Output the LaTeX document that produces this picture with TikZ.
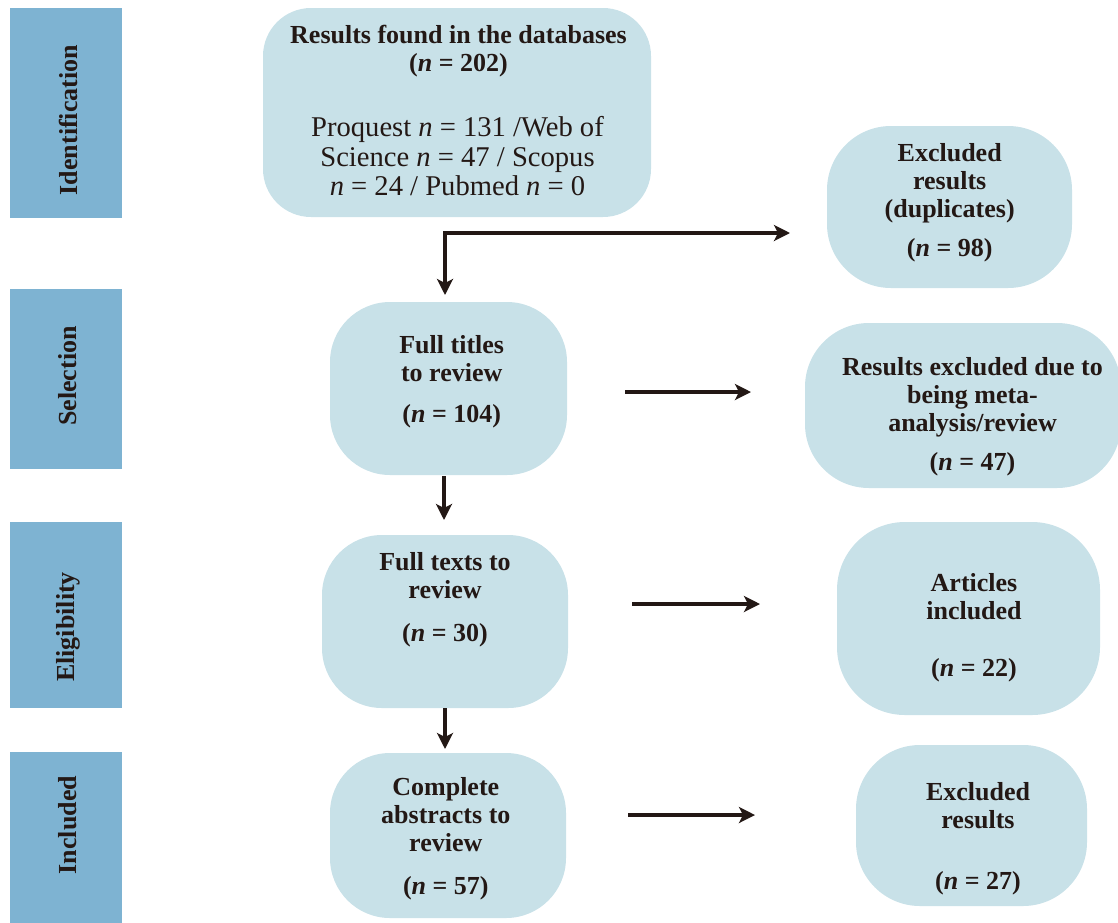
\documentclass[tikz,border=0pt]{standalone}
\usepackage{fontspec}
\setmainfont{Liberation Serif}
\usetikzlibrary{arrows.meta}
\definecolor{barblue}{RGB}{126,179,210}
\definecolor{boxblue}{RGB}{200,225,232}
\definecolor{ink}{RGB}{35,24,21}
\begin{document}
\begin{tikzpicture}[x=0.5pt,y=-0.5pt,
  bar/.style={fill=barblue, draw=none, minimum width=56pt, anchor=north west, inner sep=0pt, outer sep=0pt},
  lab/.style={rotate=90, font=\fontsize{13}{14}\selectfont\bfseries, text=ink, inner sep=0pt},
  box/.style={fill=boxblue, draw=none, inner sep=0pt, outer sep=0pt},
  txt/.style={font=\fontsize{13}{14}\selectfont\bfseries, text=ink, align=center, anchor=north, inner sep=0pt},
  rtxt/.style={font=\fontsize{14.3}{14.75}\selectfont, text=ink, align=center, anchor=north, inner sep=0pt},
  arr/.style={draw=ink, line width=2pt, -{Stealth[length=8pt,width=8pt,inset=2pt]}}]
\useasboundingbox (0,0) rectangle (1118,922);
% phase bars
\node[bar, minimum height=105pt] (b1) at (10,8) {};
\node[bar, minimum height=90pt] (b2) at (10,289) {};
\node[bar, minimum height=93pt] (b3) at (10,522) {};
\node[bar, minimum height=86pt] (b4) at (10,752) {};
\node[lab] (l1) at (68,120) {Identification};
\node[lab] (l2) at (68,376) {Selection};
\node[lab] (l3) at (68,627) {Eligibility};
\node[lab] (l4) at (68,825) {Included};
% boxes
\node[box, minimum width=194pt, minimum height=104.5pt, rounded corners=24pt] (top) at (457,112.5) {};
\node[box, minimum width=122.5pt, minimum height=81pt, rounded corners=32pt] (dup) at (949.5,207) {};
\node[box, minimum width=118.5pt, minimum height=86.5pt, rounded corners=30pt] (ft) at (448.5,388.5) {};
\node[box, minimum width=158pt, minimum height=82.5pt, rounded corners=32pt] (meta) at (963,405.5) {};
\node[box, minimum width=123pt, minimum height=86.5pt, rounded corners=30pt] (fx) at (445,621.5) {};
\node[box, minimum width=131.5pt, minimum height=96.5pt, rounded corners=34pt] (ai) at (968.5,618.5) {};
\node[box, minimum width=118pt, minimum height=82.5pt, rounded corners=30pt] (ca) at (448,835.5) {};
\node[box, minimum width=115.5pt, minimum height=80.5pt, rounded corners=32pt] (er) at (971.5,825.5) {};
% texts
\node[txt] (topa) at (458.5,25) {Results found in the databases\\(\textit{n} = 202)};
\node[rtxt] (topb) at (457.5,116) {Proquest \textit{n} = 131 /Web of\\Science \textit{n} = 47 / Scopus\\\textit{n} = 24 / Pubmed \textit{n} = 0};
\node[txt] (dupt) at (949.7,143) {Excluded\\results\\(duplicates)\\[5.5pt](\textit{n} = 98)};
\node[txt] (ftt) at (451.7,335) {Full titles\\to review\\[6.5pt](\textit{n} = 104)};
\node[txt] (metat) at (972.5,357) {Results excluded due to\\being meta-\\analysis/review\\[5.5pt](\textit{n} = 47)};
\node[txt] (fxt) at (445,552) {Full texts to\\review\\[7.5pt](\textit{n} = 30)};
\node[txt] (ait) at (974,573) {Articles\\included\\[14.5pt](\textit{n} = 22)};
\node[txt] (cat) at (445.8,777) {Complete\\abstracts to\\review\\[7.5pt](\textit{n} = 57)};
\node[txt] (ert) at (978,782) {Excluded\\results\\[16.5pt](\textit{n} = 27)};
% connectors
\coordinate (split) at (445,233);
\coordinate (dupin) at (790,233);
\coordinate (ftin) at (445,295);
\draw[draw=ink, line width=2pt] ([xshift=-1pt]split) -- ([xshift=1pt]split);
\draw[arr] ([xshift=-1pt]split) -- (dupin);
\draw[arr] (split) -- (ftin);
\coordinate (a2s) at (625,392);
\coordinate (a2e) at (751,392);
\draw[arr] (a2s) -- (a2e);
\coordinate (d2s) at (444,476);
\coordinate (d2e) at (444,520);
\draw[arr] (d2s) -- (d2e);
\coordinate (a3s) at (632,604);
\coordinate (a3e) at (760,604);
\draw[arr] (a3s) -- (a3e);
\coordinate (d3s) at (445,708);
\coordinate (d3e) at (445,749);
\draw[arr] (d3s) -- (d3e);
\coordinate (a4s) at (628,815);
\coordinate (a4e) at (755,815);
\draw[arr] (a4s) -- (a4e);
\end{tikzpicture}
\end{document}
